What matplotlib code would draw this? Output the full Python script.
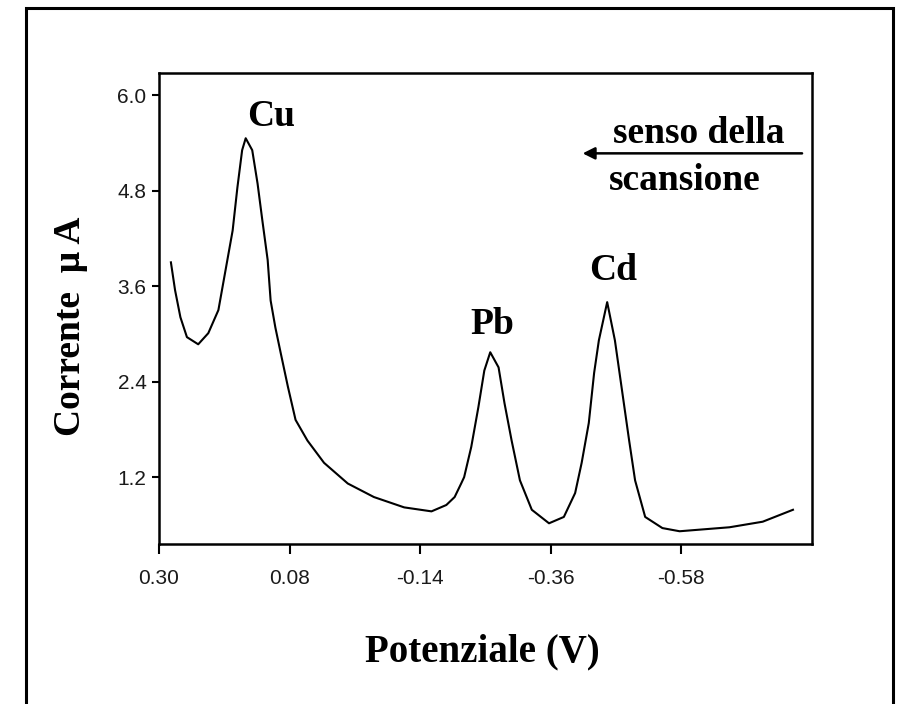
import matplotlib.pyplot as plt
from matplotlib.patches import Rectangle

# potential (V) and current (uA)
potential = [0.280, 0.273, 0.264, 0.253, 0.234, 0.217, 0.200, 0.188, 0.176, 0.168,
             0.160, 0.154, 0.143, 0.134, 0.126, 0.117, 0.112, 0.104, 0.095, 0.083,
             0.070, 0.050, 0.022, -0.018, -0.062, -0.113, -0.159, -0.184, -0.198, -0.209,
             -0.214, -0.226, -0.238, -0.248, -0.258, -0.272, -0.282, -0.294, -0.308, -0.328,
             -0.357, -0.382, -0.401, -0.412, -0.424, -0.433, -0.441, -0.455, -0.468, -0.480,
             -0.492, -0.502, -0.519, -0.548, -0.577, -0.661, -0.717, -0.768]
current = [3.90, 3.55, 3.21, 2.96, 2.87, 3.01, 3.30, 3.80, 4.30, 4.84,
           5.31, 5.46, 5.31, 4.89, 4.43, 3.93, 3.42, 3.08, 2.76, 2.34,
           1.92, 1.66, 1.38, 1.12, 0.95, 0.82, 0.77, 0.85, 0.95, 1.12,
           1.20, 1.58, 2.08, 2.54, 2.77, 2.58, 2.13, 1.66, 1.16, 0.79,
           0.62, 0.70, 1.00, 1.38, 1.88, 2.51, 2.92, 3.40, 2.92, 2.29,
           1.66, 1.16, 0.70, 0.56, 0.52, 0.57, 0.64, 0.79]

x_ticks = [0.30, 0.08, -0.14, -0.36, -0.58]
y_ticks = [1.2, 2.4, 3.6, 4.8, 6.0]

peak_names = ["Cu", "Pb", "Cd"]
peak_x = [0.112, -0.262, -0.465]
peak_y = [5.62, 3.00, 3.68]

serif = "Liberation Serif"
sans = "Liberation Sans"

fig = plt.figure(figsize=(8.97, 7.04), dpi=100)

# outer frame (bottom edge falls outside the picture)
fig.patches.append(Rectangle((0.029, -0.05), 0.9665, 1.039, transform=fig.transFigure,
                             fill=False, lw=2.2, ec="black"))

ax = fig.add_axes([0.1773, 0.2273, 0.7279, 0.669])
ax.plot(potential, current, color="black", lw=1.5)

ax.set_xlim(0.30, -0.80)
ax.set_ylim(0.36, 6.28)
ax.set_xticks(x_ticks)
ax.set_xticklabels([f"{v:.2f}" for v in x_ticks])
ax.set_yticks(y_ticks)
ax.set_yticklabels([f"{v:.1f}" for v in y_ticks])
for lab in ax.get_xticklabels() + ax.get_yticklabels():
    lab.set_fontfamily(sans)
    lab.set_fontsize(15)
    lab.set_color("#1a1a1a")
ax.tick_params(axis="x", direction="out", length=7, width=1.5, pad=11)
ax.tick_params(axis="y", direction="out", length=5, width=1.5, pad=4)
for sp in ax.spines.values():
    sp.set_linewidth(1.8)

for name, px, py in zip(peak_names, peak_x, peak_y):
    ax.text(px, py, name, ha="center", va="baseline", fontsize=27,
            fontweight="bold", family=serif)

# scan direction note
ax.text(-0.610, 5.40, "senso della", ha="center", va="baseline", fontsize=27,
        fontweight="bold", family=serif)
ax.text(-0.585, 4.81, "scansione", ha="center", va="baseline", fontsize=27,
        fontweight="bold", family=serif)
ax.annotate("", xy=(-0.409, 5.27), xytext=(-0.788, 5.27),
            arrowprops=dict(arrowstyle="-|>", color="black", lw=1.8, mutation_scale=18))

fig.text(482 / 897, 1 - 652 / 704, "Potenziale (V)", ha="center", va="center",
         fontsize=28, fontweight="bold", family=serif)
fig.text(70 / 897, 1 - 326 / 704, "Corrente  μ A", ha="center", va="center",
         rotation=90, fontsize=27, fontweight="bold", family=serif)

plt.savefig("out.png", dpi=100)
